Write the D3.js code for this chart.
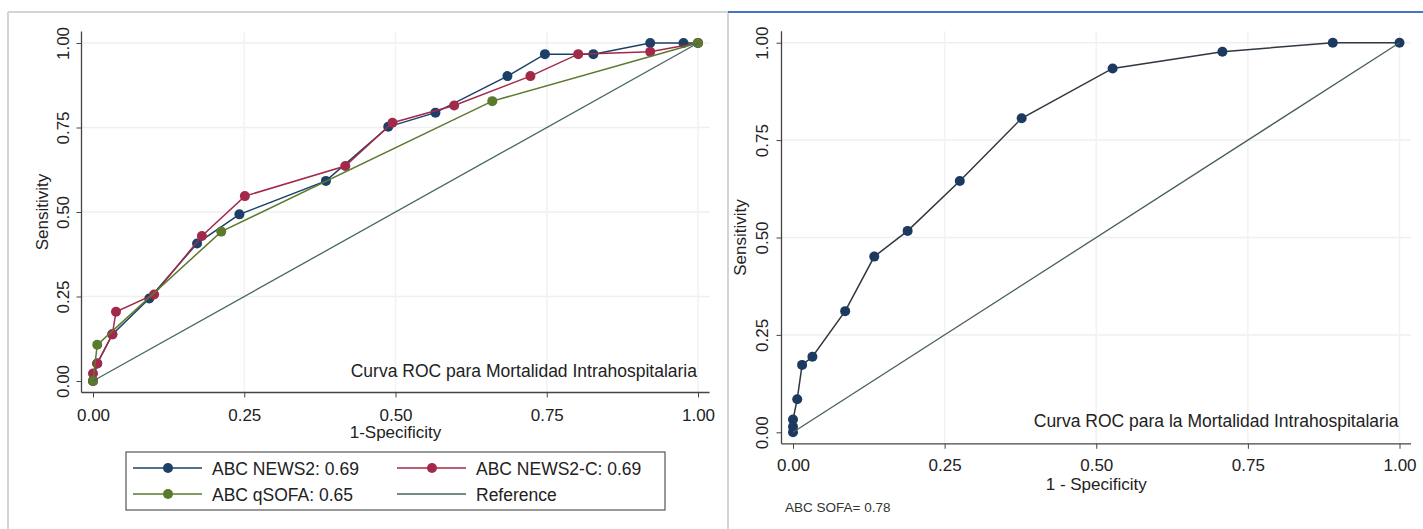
<!DOCTYPE html>
<html><head><meta charset="utf-8">
<script src="https://cdn.jsdelivr.net/npm/d3@7"></script>
<style>
body{margin:0;background:#fff}
svg{display:block;font-family:"Liberation Sans",Arial,Helvetica,sans-serif}
</style>
</head><body>
<svg id="c" width="1423" height="529"></svg>
<script>
// ---------- data ----------
const axisTicks = [0, 0.25, 0.5, 0.75, 1];

// Left chart: ABC NEWS2
const news2Fpr = [0, 0.007, 0.032, 0.093, 0.172, 0.242, 0.385, 0.488, 0.566, 0.685, 0.747, 0.827, 0.921, 0.976, 1];
const news2Tpr = [0, 0.052, 0.138, 0.244, 0.407, 0.493, 0.592, 0.752, 0.794, 0.902, 0.967, 0.967, 1.0, 1.0, 1];
// Left chart: ABC NEWS2-C
const news2cFpr = [0, 0, 0.007, 0.032, 0.038, 0.101, 0.180, 0.251, 0.417, 0.495, 0.597, 0.723, 0.802, 0.921, 1];
const news2cTpr = [0, 0.022, 0.052, 0.138, 0.205, 0.256, 0.429, 0.547, 0.636, 0.764, 0.815, 0.902, 0.967, 0.974, 1];
// Left chart: ABC qSOFA
const qsofaFpr = [0, 0.007, 0.212, 0.660, 1];
const qsofaTpr = [0, 0.107, 0.442, 0.828, 1];
// Reference line
const refFpr = [0, 1];
const refTpr = [0, 1];

// Right chart: SOFA
const sofaFpr = [0, 0, 0, 0.007, 0.015, 0.032, 0.086, 0.134, 0.189, 0.275, 0.377, 0.527, 0.708, 0.890, 1];
const sofaTpr = [0, 0.014, 0.033, 0.085, 0.173, 0.194, 0.311, 0.451, 0.517, 0.645, 0.806, 0.934, 0.977, 1.0, 1];

const legendLabels = ["ABC NEWS2: 0.69", "ABC NEWS2-C: 0.69", "ABC qSOFA: 0.65", "Reference"];
const leftTitle = "Curva ROC para Mortalidad Intrahospitalaria";
const rightTitle = "Curva ROC para la Mortalidad Intrahospitalaria";
const rightNote = "ABC SOFA= 0.78";

// ---------- drawing ----------
const svg = d3.select("#c");
const fmt = d3.format(".2f");

// panel frames
svg.append("line").attr("x1", 8).attr("y1", 12).attr("x2", 728).attr("y2", 12).attr("stroke", "#d4d4d4").attr("stroke-width", 2);
svg.append("line").attr("x1", 8).attr("y1", 12).attr("x2", 8).attr("y2", 529).attr("stroke", "#d4d4d4").attr("stroke-width", 2);
svg.append("line").attr("x1", 728).attr("y1", 12).attr("x2", 728).attr("y2", 529).attr("stroke", "#d4d4d4").attr("stroke-width", 2);
svg.append("line").attr("x1", 728).attr("y1", 12).attr("x2", 1423).attr("y2", 12).attr("stroke", "#4472c4").attr("stroke-width", 2);

function makePanel(cfg) {
  const x = d3.scaleLinear().domain([0, 1]).range(cfg.xr);
  const y = d3.scaleLinear().domain([0, 1]).range(cfg.yr);
  const pad = 11.5;
  const g = svg.append("g");
  const axisY = cfg.yr[0] + pad, axisX = cfg.xr[0] - pad;

  // faint grid
  g.append("g").selectAll("line").data(axisTicks.slice(1)).join("line")
    .attr("x1", axisX).attr("x2", cfg.xr[1] + pad)
    .attr("y1", d => y(d)).attr("y2", d => y(d))
    .attr("stroke", "#efefef").attr("stroke-width", 1.5);
  g.append("g").selectAll("line").data(axisTicks.slice(1)).join("line")
    .attr("y1", axisY).attr("y2", cfg.yr[1] - pad)
    .attr("x1", d => x(d)).attr("x2", d => x(d))
    .attr("stroke", "#f2f2f2").attr("stroke-width", 1.5);

  // x axis
  const xa = g.append("g").attr("transform", `translate(0,${axisY})`)
    .call(d3.axisBottom(x).tickValues(axisTicks).tickFormat(fmt).tickSize(5).tickPadding(cfg.xtickPad).tickSizeOuter(0));
  xa.select(".domain").remove();
  xa.selectAll("line").attr("stroke", "#444");
  xa.selectAll("text").attr("font-size", 17).attr("fill", "#222").attr("font-family", null);
  g.append("line").attr("x1", axisX).attr("x2", cfg.xr[1] + pad).attr("y1", axisY).attr("y2", axisY)
    .attr("stroke", "#444").attr("stroke-width", 1.3);

  // y axis
  const ya = g.append("g").attr("transform", `translate(${axisX},0)`)
    .call(d3.axisLeft(y).tickValues(axisTicks).tickFormat(fmt).tickSize(5).tickSizeOuter(0));
  ya.select(".domain").remove();
  ya.selectAll("line").attr("stroke", "#444");
  ya.selectAll("text").attr("font-size", 17).attr("fill", "#222").attr("font-family", null)
    .attr("x", null).attr("dy", null).attr("text-anchor", "middle")
    .attr("transform", `translate(${-cfg.ytickOff},0) rotate(-90)`);
  g.append("line").attr("x1", axisX).attr("x2", axisX).attr("y1", axisY).attr("y2", cfg.yr[1] - pad)
    .attr("stroke", "#444").attr("stroke-width", 1.3);

  // axis titles
  g.append("text").attr("x", x(0.5)).attr("y", cfg.xlabelY).attr("text-anchor", "middle")
    .attr("font-size", 17).attr("fill", "#222").text(cfg.xlabel);
  g.append("text").attr("transform", `translate(${cfg.ylabelX},${y(0.5)}) rotate(-90)`).attr("text-anchor", "middle")
    .attr("font-size", 17).attr("fill", "#222").text("Sensitivity");

  // title inside
  g.append("text").attr("x", x(1) - 1).attr("y", cfg.titleY).attr("text-anchor", "end")
    .attr("font-size", 17.5).attr("fill", "#222").text(cfg.title);

  const line = d3.line().x(d => x(d[0])).y(d => y(d[1]));
  cfg.series.forEach(s => {
    const pts = s.fpr.map((v, i) => [v, s.tpr[i]]);
    g.append("path").datum(pts).attr("d", line).attr("fill", "none")
      .attr("stroke", s.line).attr("stroke-width", s.width || 1.5);
    if (s.marker) {
      g.append("g").selectAll("circle").data(pts).join("circle")
        .attr("cx", d => x(d[0])).attr("cy", d => y(d[1])).attr("r", 5)
        .attr("fill", s.marker);
    }
  });
  return { x, y, g };
}

const cNavy = "#1d4068", cRed = "#a3294a", cGreen = "#5a7a2e", cRef = "#466660";

makePanel({
  xr: [93, 698], yr: [381, 43], ytickOff: 13, ylabelX: 48, xlabelY: 438, titleY: 377, xtickPad: 11,
  xlabel: "1-Specificity", title: leftTitle,
  series: [
    { fpr: news2Fpr, tpr: news2Tpr, line: cNavy, marker: cNavy },
    { fpr: news2cFpr, tpr: news2cTpr, line: cRed, marker: cRed },
    { fpr: qsofaFpr, tpr: qsofaTpr, line: cGreen, marker: cGreen },
    { fpr: refFpr, tpr: refTpr, line: cRef, width: 1.3 }
  ]
});

makePanel({
  xr: [793, 1399.5], yr: [432.3, 42.7], ytickOff: 13.5, ylabelX: 746, xlabelY: 490, titleY: 427, xtickPad: 10,
  xlabel: "1 - Specificity", title: rightTitle,
  series: [
    { fpr: sofaFpr, tpr: sofaTpr, line: "#2f3742", marker: "#1c3a60" },
    { fpr: refFpr, tpr: refTpr, line: "#4a5f58", width: 1.3 }
  ]
});

svg.append("text").attr("x", 785).attr("y", 512).attr("font-size", 13.5).attr("fill", "#333").text(rightNote);

// legend
const lg = svg.append("g");
lg.append("rect").attr("x", 126).attr("y", 452).attr("width", 539).attr("height", 58)
  .attr("fill", "#fff").attr("stroke", "#555").attr("stroke-width", 1.2);
const legendItems = [
  { label: legendLabels[0], color: cNavy, marker: true },
  { label: legendLabels[1], color: cRed, marker: true },
  { label: legendLabels[2], color: cGreen, marker: true },
  { label: legendLabels[3], color: cRef, marker: false }
];
const colX = [133, 397], rowY = [468, 494];
legendItems.forEach((it, i) => {
  const cx = colX[i % 2], cy = rowY[Math.floor(i / 2)];
  lg.append("line").attr("x1", cx).attr("x2", cx + 69).attr("y1", cy).attr("y2", cy)
    .attr("stroke", it.color).attr("stroke-width", 1.5);
  if (it.marker) lg.append("circle").attr("cx", cx + 35).attr("cy", cy).attr("r", 5).attr("fill", it.color);
  lg.append("text").attr("x", cx + 79).attr("y", cy + 6.5).attr("font-size", 17.5).attr("fill", "#222").text(it.label);
});
</script>
</body></html>
